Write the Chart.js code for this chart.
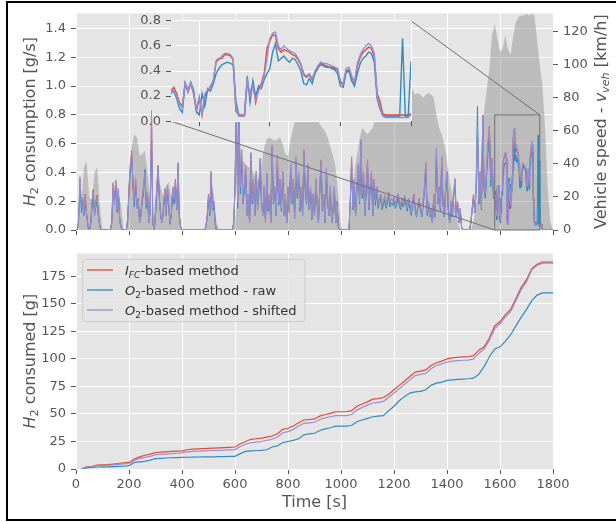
<!DOCTYPE html>
<html>
<head>
<meta charset="utf-8">
<script src="https://cdn.jsdelivr.net/npm/chart.js@4.4.1/dist/chart.umd.min.js"></script>
<style>
  body { margin: 0; background: #fff; width: 616px; height: 522px; overflow: hidden; position: relative; }
  canvas { position: absolute; }
  #frame { position: absolute; left: 6px; top: 1px; width: 640px; height: 516px; border: 2px solid #000; }
</style>
</head>
<body>
<div id="frame"></div>
<canvas id="rateChart" width="616" height="260" style="left:0;top:0"></canvas>
<canvas id="cumChart" width="616" height="282" style="left:0;top:240px"></canvas>
<canvas id="zoomChart" width="280" height="126" style="left:140px;top:8px"></canvas>
<script>
// H2 mass flow [g/s], 5 s samples from t = 0 to 1575 s
const FC_RATE = [
  0,0,0.05,0.35,0.18,0.22,0.12,0.25,0.1,0.04,0,0.02,0.18,0.28,0.1,0.2,0.24,0.08,0.03,0,
  0,0,0,0,0,0,0,0.05,0.32,0.18,0.34,0.15,0.28,0.06,0.02,0,0,0,0,0.08,
  0.3,0.45,0.55,0.3,0.2,0.35,0.15,0.22,0.05,0.1,0.22,0.3,0.4,0.18,0.25,0.05,0.15,0.8,0.05,0,
  0.12,0.3,0.45,0.2,0.1,0.05,0.15,0.28,0.1,0.3,0.18,0.05,0.12,0.3,0.2,0.35,0.15,0.46,0.1,0.02,
  0,0,0,0,0,0,0,0,0,0,0,0,0,0,0,0,0,0,0.02,0.1,
  0.25,0.12,0.4,0.15,0.2,0.05,0,0,0,0,0,0,0,0,0,0,0,0,0,0.05,
  0.3,0.85,0.2,0.78,0.3,0.55,0.18,0.3,0.44,0.1,0.25,0.05,0.53,0.2,0.35,0.1,0.4,0.15,0.3,0.49,
  0.2,0.1,0.3,0.05,0.39,0.15,0.25,0.05,0.58,0.2,0.3,0.1,0.51,0.2,0.35,0.15,0.4,0.1,0.25,0.05,
  0.3,0.12,0.45,0.2,0.35,0.08,0.5,0.25,0.4,0.15,0.3,0.1,0.55,0.3,0.2,0.45,0.15,0.3,0.08,0.25,
  0.1,0.35,0.2,0.05,0.3,0.48,0.15,0.25,0.05,0.42,0.2,0.1,0.3,0.05,0.15,0.3,0.05,0.2,0.02,0,
  0,0,0,0,0,0,0,0.2,0.5,0.15,0.35,0.1,0.3,0.45,0.2,0.62,0.25,0.4,0.1,0.3,
  0.48,0.15,0.3,0.4,0.1,0.35,0.2,0.3,0.18,0.22,0.25,0.17,0.2,0.24,0.18,0.21,0.26,0.19,0.22,0.2,
  0.23,0.18,0.21,0.25,0.2,0.17,0.22,0.19,0.24,0.2,0.15,0.22,0.18,0.12,0.2,0.25,0.15,0.1,0.18,0.22,
  0.15,0.1,0.2,0.3,0.46,0.12,0.2,0.1,0.15,0.05,0.25,0.1,0.56,0.2,0.3,0.15,0.5,0.2,0.1,0.3,
  0.4,0.15,0.05,0.2,0.1,0.25,0.35,0.1,0.2,0.05,0.15,0.02,0,0,0,0,0,0,0.05,0.15,
  0.25,0.12,0.3,0.7,0.2,0.4,0.15,0.8,0.3,0.25,0.45,0.6,0.72,0.35,0.5,0.25
];
const O2_RAW_RATE = [
  0,0,0.08,0.3,0.12,0.2,0.1,0.18,0.12,0.02,0,0.04,0.15,0.24,0.12,0.16,0.2,0.1,0.02,0,
  0,0,0,0,0,0,0,0.06,0.28,0.2,0.3,0.12,0.25,0.08,0.02,0,0,0,0,0.06,
  0.26,0.4,0.5,0.34,0.16,0.3,0.18,0.18,0.06,0.12,0.2,0.25,0.42,0.15,0.22,0.06,0.13,0.62,0.04,0,
  0.1,0.26,0.4,0.22,0.08,0.06,0.13,0.24,0.12,0.26,0.15,0.04,0.1,0.27,0.18,0.3,0.14,0.4,0.08,0.02,
  0,0,0,0,0,0,0,0,0,0,0,0,0,0,0,0,0,0,0.02,0.08,
  0.22,0.1,0.36,0.14,0.17,0.04,0,0,0,0,0,0,0,0,0,0,0,0,0,0.04,
  0.25,0.98,0.15,0.9,0.25,0.5,0.2,0.26,0.4,0.12,0.22,0.06,0.48,0.18,0.3,0.12,0.36,0.14,0.26,0.45,
  0.18,0.12,0.26,0.06,0.35,0.13,0.22,0.06,0.52,0.18,0.27,0.1,0.47,0.17,0.3,0.13,0.36,0.12,0.22,0.05,
  0.26,0.14,0.4,0.18,0.3,0.1,0.46,0.22,0.36,0.13,0.26,0.1,0.5,0.26,0.18,0.4,0.14,0.27,0.07,0.22,
  0.1,0.3,0.18,0.05,0.27,0.44,0.13,0.22,0.05,0.38,0.18,0.1,0.26,0.05,0.13,0.27,0.05,0.18,0.02,0,
  0,0,0,0,0,0,0,0.18,0.45,0.14,0.3,0.1,0.27,0.4,0.18,0.56,0.22,0.36,0.1,0.26,
  0.43,0.14,0.27,0.36,0.1,0.3,0.17,0.26,0.15,0.19,0.22,0.14,0.17,0.21,0.15,0.18,0.23,0.16,0.19,0.17,
  0.2,0.15,0.18,0.22,0.17,0.14,0.19,0.16,0.21,0.17,0.13,0.19,0.15,0.1,0.17,0.22,0.13,0.09,0.15,0.19,
  0.13,0.09,0.17,0.26,0.42,0.1,0.17,0.09,0.13,0.05,0.22,0.09,0.5,0.18,0.26,0.13,0.45,0.18,0.09,0.26,
  0.36,0.13,0.05,0.18,0.09,0.22,0.31,0.09,0.18,0.05,0.13,0.02,0,0,0,0,0,0,0.05,0.13,
  0.22,0.12,0.28,0.86,0.18,0.36,0.14,0.78,0.27,0.22,0.4,0.55,0.66,0.3,0.45,0.22
];
const O2_SHIFT_RATE = [
  0,0,0.04,0.37,0.16,0.23,0.12,0.24,0.1,0.04,0,0.02,0.19,0.27,0.1,0.21,0.23,0.08,0.03,0,
  0,0,0,0,0,0,0,0.05,0.33,0.17,0.35,0.14,0.29,0.06,0.02,0,0,0,0,0.07,
  0.28,0.46,0.54,0.31,0.2,0.36,0.15,0.21,0.05,0.1,0.23,0.29,0.4,0.18,0.26,0.05,0.14,0.83,0.05,0,
  0.12,0.31,0.44,0.2,0.1,0.05,0.15,0.29,0.1,0.31,0.17,0.05,0.12,0.3,0.21,0.34,0.15,0.47,0.1,0.02,
  0,0,0,0,0,0,0,0,0,0,0,0,0,0,0,0,0,0,0.02,0.1,
  0.24,0.12,0.41,0.15,0.2,0.05,0,0,0,0,0,0,0,0,0,0,0,0,0,0.05,
  0.3,0.86,0.2,0.8,0.3,0.56,0.18,0.31,0.45,0.1,0.25,0.05,0.54,0.2,0.35,0.1,0.41,0.15,0.31,0.5,
  0.2,0.1,0.31,0.05,0.4,0.15,0.25,0.05,0.59,0.2,0.3,0.1,0.52,0.2,0.35,0.15,0.41,0.1,0.25,0.05,
  0.3,0.12,0.46,0.2,0.35,0.08,0.51,0.25,0.41,0.15,0.3,0.1,0.56,0.3,0.2,0.46,0.15,0.3,0.08,0.25,
  0.1,0.36,0.2,0.05,0.3,0.49,0.15,0.25,0.05,0.43,0.2,0.1,0.31,0.05,0.15,0.3,0.05,0.2,0.02,0,
  0,0,0,0,0,0,0,0.2,0.51,0.15,0.35,0.1,0.3,0.46,0.2,0.63,0.25,0.41,0.1,0.3,
  0.49,0.15,0.3,0.41,0.1,0.35,0.2,0.3,0.18,0.22,0.25,0.17,0.2,0.24,0.18,0.21,0.26,0.19,0.22,0.2,
  0.23,0.18,0.21,0.25,0.2,0.17,0.22,0.19,0.24,0.2,0.15,0.22,0.18,0.12,0.2,0.25,0.15,0.1,0.18,0.22,
  0.15,0.1,0.2,0.3,0.47,0.12,0.2,0.1,0.15,0.05,0.25,0.1,0.57,0.2,0.3,0.15,0.51,0.2,0.1,0.3,
  0.41,0.15,0.05,0.2,0.1,0.25,0.36,0.1,0.2,0.05,0.15,0.02,0,0,0,0,0,0,0.05,0.15,
  0.25,0.12,0.31,0.72,0.2,0.41,0.15,0.8,0.3,0.25,0.46,0.62,0.71,0.35,0.5,0.25
];
const RATE_STEP = 5;

// last part of the cycle at 2 s resolution, t = 1580 .. 1800 s
const ZOOM_START = 1580;
const ZOOM_STEP = 2;
const FC_RATE_ZOOM = [
  0.24,0.27,0.22,0.15,0.12,0.3,0.23,0.3,0.22,0.08,
  0.18,0.05,0.2,0.24,0.28,0.32,0.48,0.5,0.5,0.53,
  0.53,0.52,0.49,0.08,0.05,0.05,0.04,0.3,0.22,0.3,
  0.15,0.26,0.3,0.38,0.58,0.64,0.69,0.68,0.58,0.55,
  0.57,0.56,0.55,0.53,0.52,0.49,0.45,0.37,0.35,0.37,
  0.33,0.38,0.42,0.46,0.45,0.44,0.43,0.43,0.42,0.41,
  0.31,0.29,0.4,0.41,0.35,0.3,0.44,0.51,0.55,0.57,
  0.59,0.58,0.52,0.22,0.16,0.06,0.05,0.05,0.05,0.05,
  0.05,0.05,0.05,0.05,0.05,0.06,0.05,0.05,0.04,0,
  0,0,0,0,0,0,0,0,0,0,
  0,0,0,0,0,0,0,0,0,0,0
];
const O2_RAW_RATE_ZOOM = [
  0.22,0.24,0.18,0.1,0.07,0.3,0.25,0.31,0.25,0.08,
  0.05,0.22,0.12,0.26,0.24,0.3,0.38,0.42,0.45,0.46,
  0.47,0.46,0.45,0.16,0.05,0.04,0.05,0.36,0.15,0.32,
  0.2,0.28,0.26,0.33,0.38,0.42,0.55,0.62,0.48,0.5,
  0.52,0.49,0.47,0.5,0.49,0.45,0.4,0.3,0.29,0.34,
  0.3,0.39,0.43,0.45,0.44,0.43,0.43,0.42,0.41,0.38,
  0.28,0.27,0.39,0.4,0.32,0.28,0.38,0.46,0.5,0.52,
  0.55,0.54,0.47,0.18,0.1,0.045,0.04,0.04,0.04,0.04,
  0.04,0.04,0.66,0.04,0.04,0.48,0.05,0.04,0.02,0,
  0,0,0,0,0,0,0,0,0,0,
  0,0,0,0,0,0,0,0,0,0,0
];
const O2_SHIFT_RATE_ZOOM = [
  0.23,0.25,0.2,0.14,0.1,0.31,0.24,0.31,0.22,0.1,
  0.2,0.06,0.22,0.25,0.27,0.33,0.47,0.49,0.52,0.54,
  0.54,0.53,0.5,0.1,0.04,0.04,0.04,0.33,0.2,0.28,
  0.17,0.24,0.28,0.36,0.5,0.66,0.7,0.71,0.6,0.57,
  0.6,0.58,0.56,0.55,0.54,0.5,0.46,0.38,0.36,0.38,
  0.34,0.4,0.44,0.47,0.46,0.46,0.45,0.44,0.43,0.42,
  0.32,0.3,0.42,0.43,0.36,0.31,0.46,0.53,0.57,0.6,
  0.62,0.6,0.54,0.2,0.12,0.04,0.03,0.03,0.03,0.03,
  0.03,0.03,0.03,0.03,0.03,0.05,0.05,0.04,0.03,0,
  0,0,0,0,0,0,0,0,0,0,
  0,0,0,0,0,0,0,0,0,0,0
];

// vehicle speed [km/h], 10 s samples
const SPEED = [
  0,0,15,38,42,20,18,35,38,15,
  0,0,0,0,20,30,22,15,0,0,
  25,50,58,56,45,46,48,35,20,0,
  20,29,26,20,27,29,20,22,24,10,
  0,0,0,0,0,0,0,0,0,0,
  15,26,22,5,0,0,0,0,0,0,
  5,20,35,42,40,38,38,35,32,30,
  40,50,55,56,55,54,55,56,52,46,
  45,55,62,68,72,76,78,79,76,74,
  72,68,64,62,60,56,50,45,38,20,
  2,0,0,0,15,35,45,55,62,60,
  58,60,62,68,78,88,95,98,99,97,
  96,97,98,97,96,95,90,85,82,83,
  82,80,82,83,82,80,70,62,58,52,
  42,30,22,15,5,0,0,0,0,0,
  5,15,25,45,72,85,98,118,125,116,
  108,110,118,110,106,118,126,129,130,130,
  131,130,131,130,115,100,88,62,25,5,
  0
];
const SPEED_STEP = 10;

// cumulative H2 consumed [g], 20 s samples from t = 20 s
const FC_CUM = [
  0,2,2.5,3.5,3.8,4,4.5,5,5.5,6,
  9,11,12.5,13.5,15,15.3,15.6,16,16.3,16.5,
  17.5,18,18.2,18.5,18.8,19,19.2,19.5,19.7,20,
  23,25,27,27.5,28,29,30,32,36,37,
  39,42,44.5,45,45.5,48,49.5,50.5,52,52,
  52,53,57,59,61,63.5,64,65,68,72,
  76,80,84,88,89,90,94,96.5,98,100,
  101,101.5,101.8,102,103,108,111,119,130,134,
  140,145,155,165,172,182,186,188,188,188
];
const O2_RAW_CUM = [
  0,1,1.5,1.8,2,2,2.2,2.3,2.5,3,
  6,6.5,7,8,9.5,9.7,10,10.2,10.4,10.5,
  10.7,10.8,10.9,11,11,11.1,11.2,11.3,11.4,11.5,
  14,16,16.5,16.8,17,17.5,20,21,24,25,
  26,27.5,31,32,32.5,35,36.5,37.5,39,39,
  39,39.5,43,44.5,46,47.5,48,48.5,53,57,
  62,66,69,70,70.5,72,76,78,79,80.5,
  81,81.5,81.7,82,82.5,86,93,102,109,111,
  116,122,130,138,145,153,158,160,160,160
];
const O2_SHIFT_CUM = [
  0,1.8,2.2,3,3.2,3.4,3.8,4.2,4.6,5,
  8,9.5,10.5,11.5,13,13.3,13.6,14,14.3,14.6,
  15.5,16,16.2,16.4,16.6,16.8,17,17.2,17.4,17.6,
  20.5,22.5,24,24.5,25,26,27,29,33,34,
  36,39,41.5,42,42.5,45,46.5,47.5,48.5,48.5,
  48.5,49.5,53.5,56,58,60,60.5,61.5,65,69,
  73,77,81,85,86,87,91,94,95.5,97,
  98,98.5,98.8,99,100,105,109,117,127.5,132,
  138,143,153,163,170,181,185,187,187,187
];
const CUM_START = 20;
const CUM_STEP = 20;

const RATE_TICKS = [0, 0.2, 0.4, 0.6, 0.8, 1.0, 1.2, 1.4];
const SPEED_TICKS = [0, 20, 40, 60, 80, 100, 120];
const TIME_TICKS = [0, 200, 400, 600, 800, 1000, 1200, 1400, 1600, 1800];
const CUM_TICKS = [0, 25, 50, 75, 100, 125, 150, 175];
const ZOOM_X_TICKS = [1600, 1650, 1700, 1750];
const ZOOM_Y_TICKS = [0, 0.2, 0.4, 0.6, 0.8];
const ZOOM_X_RANGE = [1580, 1750];
const ZOOM_Y_RANGE = [0, 0.8];

const RED = '#E24A33', BLUE = '#348ABD', PURPLE = '#988ED5';
const GREY = '#555555', PANEL = '#E5E5E5';
const FONT = '"DejaVu Sans"';

const SERIES_NAMES = [
  [['I', 'i'], ['FC', 'is'], ['-based method', '']],
  [['O', 'i'], ['2', 's'], ['-based method - raw', '']],
  [['O', 'i'], ['2', 's'], ['-based method - shifted', '']]
];

const times = (arr, start, step) => arr.map((_, i) => start + i * step);
const points = (ts, vs) => vs.map((v, i) => ({ x: ts[i], y: v }));

const RATE_T = times(FC_RATE, 0, RATE_STEP);
const ZOOM_T = times(FC_RATE_ZOOM, ZOOM_START, ZOOM_STEP);
const SPEED_T = times(SPEED, 0, SPEED_STEP);
const CUM_T = times(FC_CUM, CUM_START, CUM_STEP);

// text runs with italic / subscript parts, like matplotlib mathtext
function runFont(flags, size) {
  const sz = flags.includes('s') ? size * 0.7 : size;
  return (flags.includes('i') ? 'italic ' : '') + sz + 'px ' + FONT;
}
function runWidth(ctx, parts, size) {
  let w = 0;
  for (const [t, f] of parts) { ctx.font = runFont(f, size); w += ctx.measureText(t).width; }
  return w;
}
function drawRun(ctx, parts, x, base, size, color) {
  ctx.fillStyle = color;
  ctx.textAlign = 'left';
  ctx.textBaseline = 'alphabetic';
  let cx = x;
  for (const [t, f] of parts) {
    ctx.font = runFont(f, size);
    ctx.fillText(t, cx, base + (f.includes('s') ? size * 0.22 : 0));
    cx += ctx.measureText(t).width;
  }
}
function drawTitle(ctx, parts, cx, cy, size, rotated) {
  ctx.save();
  ctx.translate(cx, cy);
  if (rotated) ctx.rotate(-Math.PI / 2);
  drawRun(ctx, parts, -runWidth(ctx, parts, size) / 2, size * 0.36, size, GREY);
  ctx.restore();
}

const panelBg = {
  id: 'panelBg',
  beforeDraw(chart) {
    const a = chart.chartArea;
    chart.ctx.save();
    chart.ctx.fillStyle = PANEL;
    chart.ctx.fillRect(a.left, a.top, a.right - a.left, a.bottom - a.top);
    chart.ctx.restore();
  }
};

const tickFont = { family: 'DejaVu Sans', size: 13 };
const fixTicks = list => scale => { scale.ticks = list.map(v => ({ value: v })); };
const gridOn = { color: '#ffffff', lineWidth: 1, tickColor: GREY, tickLength: 5 };

function lineSet(data, color, width, order, axis) {
  return { data, borderColor: color, borderWidth: width, order, yAxisID: axis || 'y',
           pointRadius: 0, tension: 0, fill: false };
}

const baseOptions = {
  responsive: false,
  animation: false,
  devicePixelRatio: 1,
  plugins: { legend: { display: false }, tooltip: { enabled: false } }
};

// inset: close-up of the final high speed part
const zoomChart = new Chart(document.getElementById('zoomChart'), {
  type: 'line',
  data: {
    datasets: [
      lineSet(points(ZOOM_T, O2_SHIFT_RATE_ZOOM), PURPLE, 1.4, 0),
      lineSet(points(ZOOM_T, O2_RAW_RATE_ZOOM), BLUE, 1.4, 1),
      lineSet(points(ZOOM_T, FC_RATE_ZOOM), RED, 1.4, 2)
    ]
  },
  options: {
    ...baseOptions,
    layout: { padding: { top: 12, right: 9, left: 0, bottom: 0 } },
    scales: {
      x: {
        type: 'linear', min: ZOOM_X_RANGE[0], max: ZOOM_X_RANGE[1],
        afterBuildTicks: fixTicks(ZOOM_X_TICKS),
        ticks: { display: false },
        grid: gridOn, border: { display: false },
        afterFit: s => { s.height = 12.5; }
      },
      y: {
        min: ZOOM_Y_RANGE[0], max: ZOOM_Y_RANGE[1],
        afterBuildTicks: fixTicks(ZOOM_Y_TICKS),
        ticks: { font: tickFont, color: GREY, padding: 5, callback: v => v.toFixed(1) },
        grid: gridOn, border: { display: false },
        afterFit: s => { s.width = 31; }
      }
    }
  },
  plugins: [panelBg]
});
const ZOOM_OFFSET = { x: 140, y: 8 };

const zoomMarks = {
  id: 'zoomMarks',
  afterDatasetsDraw(chart) {
    const { ctx, scales: { x, y } } = chart;
    const x0 = x.getPixelForValue(ZOOM_X_RANGE[0]), x1 = x.getPixelForValue(ZOOM_X_RANGE[1]);
    const y0 = y.getPixelForValue(ZOOM_Y_RANGE[0]), y1 = y.getPixelForValue(ZOOM_Y_RANGE[1]);
    const ia = zoomChart.chartArea;
    ctx.save();
    ctx.strokeStyle = '#707070';
    ctx.lineWidth = 1;
    ctx.strokeRect(x0, y1, x1 - x0, y0 - y1);
    ctx.beginPath();
    ctx.moveTo(ia.left + ZOOM_OFFSET.x, ia.bottom + ZOOM_OFFSET.y);
    ctx.lineTo(x0, y0);
    ctx.moveTo(ia.right + ZOOM_OFFSET.x, ia.top + ZOOM_OFFSET.y);
    ctx.lineTo(x1, y1);
    ctx.stroke();
    ctx.restore();
  },
  afterDraw(chart) {
    const a = chart.chartArea, cy = (a.top + a.bottom) / 2;
    drawTitle(chart.ctx, [['H', 'i'], ['2', 's'], [' consumption [g/s]', '']], 29, cy, 16, true);
    drawTitle(chart.ctx, [['Vehicle speed - ', ''], ['v', 'i'], ['veh', 'is'], [' [km/h]', '']], 600, cy, 16, true);
  }
};

new Chart(document.getElementById('rateChart'), {
  type: 'line',
  data: {
    datasets: [
      lineSet(points(RATE_T.concat(ZOOM_T), O2_SHIFT_RATE.concat(O2_SHIFT_RATE_ZOOM)), PURPLE, 1, 0),
      lineSet(points(RATE_T.concat(ZOOM_T), O2_RAW_RATE.concat(O2_RAW_RATE_ZOOM)), BLUE, 1, 1),
      lineSet(points(RATE_T.concat(ZOOM_T), FC_RATE.concat(FC_RATE_ZOOM)), RED, 1, 2),
      {
        data: points(SPEED_T, SPEED), yAxisID: 'y1', order: 3,
        fill: 'origin', backgroundColor: 'rgba(128,128,128,0.4)',
        borderColor: 'rgba(0,0,0,0)', borderWidth: 0, pointRadius: 0, tension: 0
      }
    ]
  },
  options: {
    ...baseOptions,
    layout: { padding: { top: 13.3, left: 0, right: 0, bottom: 0 } },
    scales: {
      x: {
        type: 'linear', min: 0, max: 1800,
        afterBuildTicks: fixTicks(TIME_TICKS),
        ticks: { display: false },
        grid: gridOn, border: { display: false },
        afterFit: s => { s.height = 30; }
      },
      y: {
        position: 'left', min: 0, max: 1.506,
        afterBuildTicks: fixTicks(RATE_TICKS),
        ticks: { font: tickFont, color: GREY, padding: 5, callback: v => v.toFixed(1) },
        grid: gridOn, border: { display: false },
        afterFit: s => { s.width = 76; }
      },
      y1: {
        position: 'right', min: 0, max: 131.3,
        afterBuildTicks: fixTicks(SPEED_TICKS),
        ticks: { font: tickFont, color: GREY, padding: 5, callback: v => String(v) },
        grid: { ...gridOn, drawOnChartArea: false }, border: { display: false },
        afterFit: s => { s.width = 63; }
      }
    }
  },
  plugins: [panelBg, zoomMarks]
});

const cumDecor = {
  id: 'cumDecor',
  afterDatasetsDraw(chart) {
    const ctx = chart.ctx;
    const box = { x: 82.7, y: 19.3, w: 222.3, h: 62.4 };
    ctx.save();
    ctx.beginPath();
    ctx.roundRect(box.x, box.y, box.w, box.h, 3);
    ctx.fillStyle = 'rgba(229,229,229,0.8)';
    ctx.fill();
    ctx.strokeStyle = '#cccccc';
    ctx.lineWidth = 1;
    ctx.stroke();
    const colors = [RED, BLUE, PURPLE];
    SERIES_NAMES.forEach((name, i) => {
      const ly = 30 + i * 20;
      ctx.beginPath();
      ctx.moveTo(87, ly);
      ctx.lineTo(113, ly);
      ctx.strokeStyle = colors[i];
      ctx.lineWidth = 1.3;
      ctx.stroke();
      drawRun(ctx, name, 125, ly + 13 * 0.36, 13, '#333333');
    });
    ctx.restore();
  },
  afterDraw(chart) {
    const a = chart.chartArea;
    drawTitle(chart.ctx, [['H', 'i'], ['2', 's'], [' consumed [g]', '']], 29, (a.top + a.bottom) / 2, 16, true);
    drawTitle(chart.ctx, [['Time [s]', '']], (a.left + a.right) / 2, 261, 16, false);
  }
};

new Chart(document.getElementById('cumChart'), {
  type: 'line',
  data: {
    datasets: [
      lineSet(points(CUM_T, O2_SHIFT_CUM), PURPLE, 1.2, 0),
      lineSet(points(CUM_T, O2_RAW_CUM), BLUE, 1.2, 1),
      lineSet(points(CUM_T, FC_CUM), RED, 1.2, 2)
    ]
  },
  options: {
    ...baseOptions,
    layout: { padding: { top: 13.3, left: 0, right: 63, bottom: 0 } },
    scales: {
      x: {
        type: 'linear', min: 0, max: 1800,
        afterBuildTicks: fixTicks(TIME_TICKS),
        ticks: { font: tickFont, color: GREY, padding: 3, maxRotation: 0, autoSkip: false,
                 callback: v => String(v) },
        grid: gridOn, border: { display: false },
        afterFit: s => { s.height = 53; }
      },
      y: {
        min: 0, max: 196,
        afterBuildTicks: fixTicks(CUM_TICKS),
        ticks: { font: tickFont, color: GREY, padding: 5, callback: v => String(v) },
        grid: gridOn, border: { display: false },
        afterFit: s => { s.width = 76; }
      }
    }
  },
  plugins: [panelBg, cumDecor]
});
</script>
</body>
</html>
